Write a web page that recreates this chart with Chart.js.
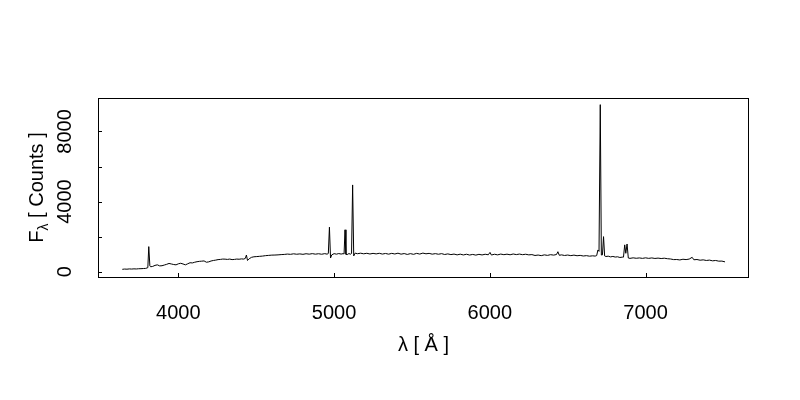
<!DOCTYPE html>
<html>
<head>
<meta charset="utf-8">
<script src="https://cdn.jsdelivr.net/npm/chart.js@4.4.1/dist/chart.umd.min.js"></script>
<style>
  body { margin: 0; background: #fff; }
  canvas { display: block; }
</style>
</head>
<body>
<canvas id="spec" width="800" height="400"></canvas>
<script>
// Wavelength (Angstrom) and flux (counts)
const wave = [
  3640, 3655, 3670, 3685, 3700, 3715, 3730, 3745, 3760, 3775,
  3790, 3804, 3810, 3817, 3822, 3835, 3850, 3865, 3880, 3895,
  3910, 3925, 3940, 3955, 3970, 3985, 4000, 4015, 4030, 4045,
  4060, 4075, 4090, 4105, 4120, 4135, 4150, 4165, 4180, 4195,
  4210, 4225, 4240, 4255, 4270, 4285, 4300, 4315, 4330, 4345,
  4360, 4375, 4390, 4405, 4420, 4430, 4437, 4444, 4455, 4470,
  4485, 4500, 4520, 4540, 4560, 4580, 4600, 4620, 4640, 4660,
  4680, 4700, 4720, 4740, 4760, 4780, 4800, 4820, 4840, 4860,
  4880, 4900, 4920, 4940, 4955, 4963, 4970, 4977, 4985, 5000,
  5015, 5030, 5045, 5058, 5064, 5070, 5076, 5084, 5095, 5105,
  5112, 5119, 5126, 5135, 5150, 5170, 5190, 5210, 5230, 5250,
  5270, 5290, 5310, 5330, 5350, 5370, 5390, 5410, 5430, 5450,
  5470, 5490, 5510, 5530, 5550, 5570, 5590, 5610, 5630, 5650,
  5670, 5690, 5710, 5730, 5750, 5770, 5790, 5810, 5830, 5850,
  5870, 5890, 5910, 5930, 5950, 5970, 5990, 6001, 6010, 6030,
  6050, 6070, 6090, 6110, 6130, 6150, 6170, 6190, 6210, 6230,
  6250, 6270, 6290, 6310, 6330, 6350, 6370, 6390, 6410, 6428,
  6437, 6446, 6460, 6480, 6500, 6520, 6540, 6560, 6580, 6600,
  6620, 6640, 6660, 6676, 6686, 6694, 6701, 6709, 6716, 6723,
  6730, 6737, 6745, 6760, 6775, 6790, 6805, 6820, 6835, 6850,
  6858, 6866, 6873, 6881, 6889, 6900, 6920, 6940, 6960, 6980,
  7000, 7020, 7040, 7060, 7080, 7100, 7120, 7140, 7160, 7180,
  7200, 7220, 7240, 7260, 7280, 7299, 7310, 7330, 7350, 7370,
  7390, 7410, 7430, 7450, 7470, 7490, 7510
];
const flux = [
  135, 150, 142, 158, 150, 162, 155, 168, 172, 180,
  188, 230, 1430, 330, 280, 300, 360, 390, 330, 340,
  380, 420, 470, 440, 410, 390, 450, 480, 440, 390,
  450, 510, 500, 540, 570, 590, 600, 615, 540, 560,
  610, 640, 660, 690, 700, 720, 715, 700, 720, 690,
  700, 720, 710, 730, 720, 760, 950, 640, 740, 820,
  850, 860, 875, 890, 915, 930, 945, 950, 960, 975,
  985, 1005, 990, 1020, 995, 1015, 990, 1025, 1000, 1030,
  1000, 1025, 995, 1030, 1000, 1040, 2540, 780, 960, 1030,
  1000, 1035, 1005, 1030, 1010, 2390, 990, 975, 1035, 1000,
  1040, 4950, 900, 1060, 1025, 1055, 1020, 1050, 1010, 1045,
  1015, 1050, 1005, 1040, 1000, 1045, 1010, 1055, 1000, 1035,
  985, 1030, 990, 1045, 1005, 1060, 1020, 1045, 1000, 1030,
  995, 1030, 980, 1015, 975, 1005, 960, 1000, 955, 995,
  950, 985, 945, 990, 955, 995, 965, 1100, 950, 995,
  960, 1005, 970, 1000, 965, 1010, 975, 1005, 970, 995,
  960, 975, 925, 950, 915, 960, 930, 970, 945, 980,
  1140, 935, 960, 925, 950, 915, 945, 910, 930, 895,
  915, 885, 905, 890, 920, 1240, 1160, 9530, 950, 960,
  2000, 900, 865, 885, 845, 870, 835, 850, 810, 830,
  830, 1530, 1050, 1580, 780, 760, 790, 765, 785, 760,
  790, 760, 785, 755, 775, 750, 770, 740, 725, 690,
  695, 670, 710, 690, 720, 820, 680, 695, 655, 675,
  640, 660, 620, 640, 600, 605, 560
];
const xRange = [3484, 7664];
const yRange = [-303, 9909];
const xTicks = [4000, 5000, 6000, 7000];
const yTicks = [0, 2000, 4000, 6000, 8000];
const yLabelTicks = [0, 4000, 8000];

const FONT = '"Liberation Sans", Arial, Helvetica, sans-serif';

// R-style frame: full box, inward ticks, vertical y labels, subscripted y title
const frame = {
  id: 'frame',
  afterDraw(chart) {
    const { ctx, chartArea: a, scales: { x, y } } = chart;
    ctx.save();
    ctx.strokeStyle = '#000';
    ctx.lineWidth = 1;
    ctx.strokeRect(a.left + 0.5, a.top + 0.5, a.right - a.left - 1, a.bottom - a.top);

    ctx.beginPath();
    x.ticks.forEach(t => {
      const px = Math.round(x.getPixelForValue(t.value)) + 0.5;
      ctx.moveTo(px, a.bottom);
      ctx.lineTo(px, a.bottom - 4);
    });
    y.ticks.forEach(t => {
      const py = Math.round(y.getPixelForValue(t.value)) + 0.5;
      ctx.moveTo(a.left, py);
      ctx.lineTo(a.left + 4, py);
    });
    ctx.stroke();

    ctx.fillStyle = '#000';
    ctx.font = '20px ' + FONT;
    ctx.textAlign = 'center';
    ctx.textBaseline = 'alphabetic';
    y.ticks.filter(t => yLabelTicks.includes(t.value)).forEach(t => {
      ctx.save();
      ctx.translate(a.left - 27, y.getPixelForValue(t.value));
      ctx.rotate(-Math.PI / 2);
      ctx.fillText(String(t.value), 0, 0);
      ctx.restore();
    });

    // y title: F_lambda [ Counts ]
    const main = '20px ' + FONT, sub = '14px ' + FONT;
    ctx.font = main; const wF = ctx.measureText('F').width;
    const rest = ' [ Counts ]'; const wR = ctx.measureText(rest).width;
    ctx.font = sub; const wL = ctx.measureText('λ').width;
    const total = wF + wL + wR;
    ctx.save();
    ctx.translate(a.left - 55, (a.top + a.bottom) / 2);
    ctx.rotate(-Math.PI / 2);
    ctx.textAlign = 'left';
    let cx = -total / 2;
    ctx.font = main; ctx.fillText('F', cx, 0); cx += wF;
    ctx.font = sub; ctx.fillText('λ', cx, 5); cx += wL;
    ctx.font = main; ctx.fillText(rest, cx, 0);
    ctx.restore();
    ctx.restore();
  }
};

new Chart(document.getElementById('spec'), {
  type: 'line',
  data: {
    datasets: [{
      data: wave.map((w, i) => ({ x: w, y: flux[i] })),
      borderColor: '#000',
      borderWidth: 1,
      pointRadius: 0,
      tension: 0,
      fill: false
    }]
  },
  options: {
    responsive: false,
    animation: false,
    layout: { padding: { top: 98, right: 51, bottom: 39, left: 0 } },
    plugins: { legend: { display: false }, tooltip: { enabled: false } },
    scales: {
      x: {
        type: 'linear',
        min: xRange[0], max: xRange[1],
        afterBuildTicks(s) { s.ticks = xTicks.map(v => ({ value: v })); },
        afterFit(s) { s.height = 84; },
        grid: { display: false, drawTicks: false },
        border: { display: false },
        ticks: { padding: 24, color: '#000', maxRotation: 0, autoSkip: false,
                 font: { size: 20, family: FONT }, callback: v => String(v) },
        title: { display: true, text: 'λ [ Å ]', color: '#000', font: { size: 20, family: FONT },
                 padding: { top: 4, bottom: 4 } }
      },
      y: {
        type: 'linear',
        min: yRange[0], max: yRange[1],
        afterBuildTicks(s) { s.ticks = yTicks.map(v => ({ value: v })); },
        afterFit(s) { s.width = 98; },
        grid: { display: false, drawTicks: false },
        border: { display: false },
        ticks: { display: false }
      }
    }
  },
  plugins: [frame]
});
</script>
</body>
</html>
